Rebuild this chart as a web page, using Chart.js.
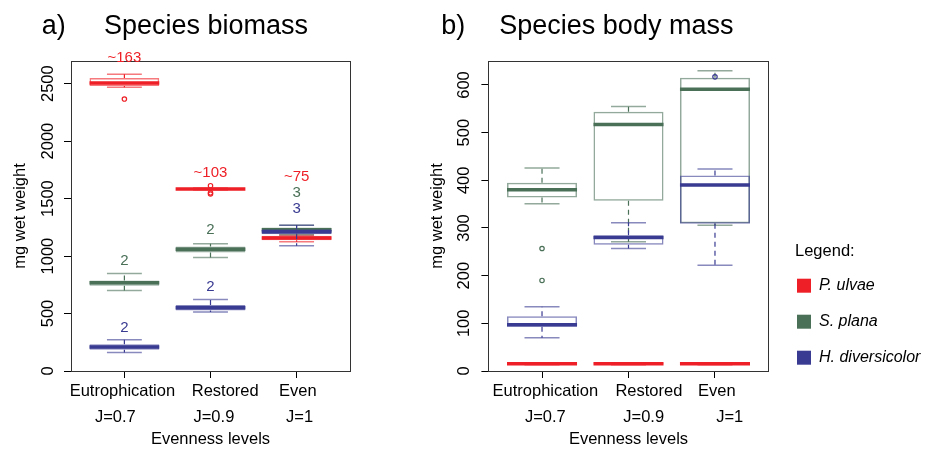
<!DOCTYPE html>
<html>
<head>
<meta charset="utf-8">
<title>Species biomass and body mass</title>
<script src="https://cdn.jsdelivr.net/npm/chart.js@4.4.1/dist/chart.umd.min.js"></script>
<style>
    html, body { margin: 0; padding: 0; background: #fff; }
    #wrap { position: relative; width: 926px; height: 449px; overflow: hidden; }
    canvas { position: absolute; top: 0; }
    #biomassChart { left: 0; }
    #massChart { left: 400px; }
</style>
</head>
<body>
<div id="wrap">
    <canvas id="biomassChart" width="400" height="449"></canvas>
    <canvas id="massChart" width="526" height="449"></canvas>
</div>
<script>
// x axis categories
const levels = ['Eutrophication', 'Restored', 'Even'];
const evennessJ = ['J=0.7', 'J=0.9', 'J=1'];
const species = ['P. ulvae', 'S. plana', 'H. diversicolor'];

// y tick values
const biomassTicks = [0, 500, 1000, 1500, 2000, 2500];
const massTicks = [0, 100, 200, 300, 400, 500, 600];

// box stats per level: [lower whisker, Q1, median, Q3, upper whisker]
const biomassUlvae = [[2468, 2479, 2506, 2549, 2581], [1574, 1578, 1583, 1588, 1592], [1124, 1138, 1158, 1176, 1182]];
const biomassPlana = [[701, 741, 767, 788, 849], [988, 1031, 1060, 1083, 1106], [1185, 1197, 1228, 1249, 1269]];
const biomassDiv = [[162, 185, 209, 232, 272], [513, 527, 550, 574, 623], [1089, 1190, 1212, 1234, 1269]];
const biomassUlvaeOut = [[2366], [1612, 1550, 1540], []];
const biomassPlanaOut = [[], [], []];
const biomassDivOut = [[], [], []];

// numbers written over the boxes in panel a
const notesUlvae = ['~163', '~103', '~75'];
const notesPlana = ['2', '2', '3'];
const notesDiv = ['2', '2', '3'];
const notesUlvaeAt = [2690, 1691, 1656];
const notesPlanaAt = [918, 1196, 1511];
const notesDivAt = [338, 700, 1372];

const massUlvae = [[13, 14, 15, 16, 17], [13, 14, 15, 16, 17], [13, 14, 15, 16, 17]];
const massPlana = [[351, 364, 380, 395, 426], [271, 357, 517, 544, 555], [306, 310, 591, 615, 630]];
const massDiv = [[70, 93, 97, 115, 135], [257, 265, 280, 285, 311], [222, 309, 390, 410, 424]];
const massUlvaeOut = [[], [], []];
const massPlanaOut = [[257, 190], [], []];
const massDivOut = [[], [], [617]];

const colors = ['#ee1f26', '#4a7058', '#393a91'];
const boxColors = ['rgba(238,31,38,0.6)', 'rgba(74,112,88,0.6)', 'rgba(57,58,145,0.6)'];
const BOX = 0.81;   // box width as part of the level spacing
const FONT = '"Liberation Sans", Arial, Helvetica, sans-serif';

Chart.defaults.font.family = FONT;
Chart.defaults.color = '#000';

// one species -> box, whiskers, caps, median, outliers
function boxDatasets(stats, outliers, k) {
    const half = BOX / 2;
    const rank = (3 - k) * 10;
    const whiskers = [], caps = [], medians = [], points = [];
    stats.forEach((s, i) => {
        const x = i + 1;
        whiskers.push({x: x, y: s[3]}, {x: x, y: s[4]}, {x: x, y: null},
                      {x: x, y: s[1]}, {x: x, y: s[0]}, {x: x, y: null});
        caps.push({x: x - half / 2, y: s[4]}, {x: x + half / 2, y: s[4]}, {x: x, y: null},
                  {x: x - half / 2, y: s[0]}, {x: x + half / 2, y: s[0]}, {x: x, y: null});
        medians.push({x: x - half, y: s[2]}, {x: x + half, y: s[2]}, {x: x, y: null});
        outliers[i].forEach(v => points.push({x: x, y: v}));
    });
    const line = {type: 'line', pointRadius: 0, pointHitRadius: 0, fill: false, tension: 0, spanGaps: false};
    return [
        {
            type: 'bar', label: species[k],
            data: stats.map((s, i) => ({x: i + 1, y: [s[1], s[3]]})),
            backgroundColor: 'rgba(0,0,0,0)', borderColor: boxColors[k], borderWidth: 1.5,
            borderSkipped: false, grouped: false, barPercentage: BOX, categoryPercentage: 1,
            order: rank + 4
        },
        Object.assign({}, line, {label: species[k] + ' whiskers', data: whiskers, borderColor: colors[k],
            borderWidth: 1.2, borderDash: [5, 4], order: rank + 3}),
        Object.assign({}, line, {label: species[k] + ' caps', data: caps, borderColor: boxColors[k],
            borderWidth: 1.5, order: rank + 3}),
        Object.assign({}, line, {label: species[k] + ' median', data: medians, borderColor: colors[k],
            borderWidth: 3.5, borderCapStyle: 'butt', order: rank + 1}),
        {
            type: 'scatter', label: species[k] + ' outliers', data: points,
            borderColor: colors[k], backgroundColor: 'rgba(0,0,0,0)',
            pointRadius: 2.2, pointBorderWidth: 1.2, order: rank + 2
        }
    ];
}

function xAxis() {
    return {
        type: 'linear', min: 0.38, max: 3.62, offset: false,
        border: {display: true, color: '#333', width: 1},
        grid: {display: true, drawOnChartArea: false, drawTicks: true, tickLength: 7, color: '#000', offset: false},
        // labels are written by the levelLabels plugin (they sit off-centre in the original)
        ticks: {stepSize: 1, includeBounds: false, autoSkip: false, display: false},
        title: {display: true, text: 'Evenness levels', color: '#000', font: {size: 16.5}, padding: {top: 0, bottom: 0}},
        afterFit: s => { s.height = 78; }
    };
}

function yAxis(tickValues, labelPad, titlePad, width) {
    return {
        type: 'linear', min: 0,
        border: {display: true, color: '#333', width: 1},
        grid: {display: true, drawOnChartArea: false, drawTicks: true, tickLength: 7, color: '#000'},
        ticks: {
            autoSkip: false, minRotation: 90, maxRotation: 90,
            crossAlign: 'center', padding: labelPad, color: '#000', font: {size: 16.5},
            callback: v => String(v)
        },
        afterBuildTicks: s => { s.ticks = tickValues.map(v => ({value: v})); },
        title: {display: true, text: 'mg wet weight', color: '#000', font: {size: 16.5}, padding: {top: titlePad, bottom: 0}},
        afterFit: s => { s.width = width; }
    };
}

// axes that only draw the top and right sides of the plot box
function frameAxis(position, size) {
    return {
        type: 'linear', position: position, min: 0, max: 1, display: true,
        grid: {display: false}, ticks: {display: false},
        border: {display: true, color: '#333', width: 1},
        afterFit: s => { if (position === 'top') s.height = 0; else s.width = size; }
    };
}

function headingPlugin(tag, text, tagX, textX) {
    return {
        id: 'heading',
        afterDraw(chart) {
            const ctx = chart.ctx;
            ctx.save();
            ctx.font = '27px ' + FONT;
            ctx.fillStyle = '#000';
            ctx.textBaseline = 'alphabetic';
            ctx.fillText(tag, tagX, 33.5);
            ctx.fillText(text, textX, 33.5);
            ctx.restore();
        }
    };
}

// level names and J values under the ticks, shifted like in the original figure
function levelLabelsPlugin(shift1, shift2) {
    return {
        id: 'levelLabels',
        afterDraw(chart) {
            const {ctx, scales: {x}} = chart;
            ctx.save();
            ctx.font = '16.5px ' + FONT;
            ctx.fillStyle = '#000';
            ctx.textAlign = 'center';
            ctx.textBaseline = 'alphabetic';
            levels.forEach((name, i) => {
                const px = x.getPixelForValue(i + 1);
                ctx.fillText(name, px + shift1[i], x.top + 24.5);
                ctx.fillText(evennessJ[i], px + shift2[i], x.top + 51);
            });
            ctx.restore();
        }
    };
}

const noteSets = [
    {text: notesUlvae, at: notesUlvaeAt},
    {text: notesPlana, at: notesPlanaAt},
    {text: notesDiv, at: notesDivAt}
];

const boxNotes = {
    id: 'boxNotes',
    afterDatasetsDraw(chart) {
        const {ctx, scales: {x, y}} = chart;
        ctx.save();
        ctx.font = '15px ' + FONT;
        ctx.textAlign = 'center';
        ctx.textBaseline = 'alphabetic';
        noteSets.forEach((set, k) => {
            ctx.fillStyle = colors[k];
            set.text.forEach((t, i) => ctx.fillText(t, x.getPixelForValue(i + 1), y.getPixelForValue(set.at[i])));
        });
        ctx.restore();
    }
};

const common = {
    responsive: false,
    devicePixelRatio: 1,
    animation: false,
    events: []
};

// a) Species biomass
new Chart(document.getElementById('biomassChart'), {
    type: 'bar',
    data: {
        datasets: [].concat(
            boxDatasets(biomassUlvae, biomassUlvaeOut, 0),
            boxDatasets(biomassPlana, biomassPlanaOut, 1),
            boxDatasets(biomassDiv, biomassDivOut, 2)
        )
    },
    options: Object.assign({}, common, {
        layout: {padding: {top: 61, right: 50, bottom: 0, left: 0}},
        scales: {
            x: xAxis(),
            y: Object.assign(yAxis(biomassTicks, -2.9, 10.3, 71), {max: 2697}),
            xTop: frameAxis('top', 0),
            yRight: frameAxis('right', 0)
        },
        plugins: {legend: {display: false}, tooltip: {enabled: false}}
    }),
    plugins: [headingPlugin('a)', 'Species biomass', 41.7, 104), boxNotes,
              levelLabelsPlugin([-2, 14.7, 1.3], [-9, 3.4, 3])]
});

// b) Species body mass
new Chart(document.getElementById('massChart'), {
    type: 'bar',
    data: {
        datasets: [].concat(
            boxDatasets(massUlvae, massUlvaeOut, 0),
            boxDatasets(massPlana, massPlanaOut, 1),
            boxDatasets(massDiv, massDivOut, 2)
        )
    },
    options: Object.assign({}, common, {
        layout: {padding: {top: 61, right: 5, bottom: 0, left: 0}},
        scales: {
            x: xAxis(),
            y: Object.assign(yAxis(massTicks, 3.6, 27.6, 88.4), {max: 650.3}),
            xTop: frameAxis('top', 0),
            yRight: frameAxis('right', 26.4)
        },
        plugins: {
            tooltip: {enabled: false},
            legend: {
                display: true, position: 'right', align: 'start', maxWidth: 126,
                title: {display: true, position: 'start', text: 'Legend:', color: '#000', font: {size: 16.5},
                        padding: {top: 182.4, bottom: 12.5}},
                labels: {
                    boxWidth: 14, boxHeight: 14, padding: 2, color: '#000',
                    font: {size: 16, style: 'italic', lineHeight: 2.125},
                    generateLabels: () => species.map((name, k) => ({
                        text: [name], fillStyle: colors[k], strokeStyle: colors[k],
                        lineWidth: 0, fontColor: '#000', hidden: false, datasetIndex: k * 5
                    }))
                }
            }
        }
    }),
    plugins: [headingPlugin('b)', 'Species body mass', 41.2, 99.3),
              levelLabelsPlugin([3.3, 20.4, 1.9], [3.3, 15.2, 14.7])]
});
</script>
</body>
</html>
